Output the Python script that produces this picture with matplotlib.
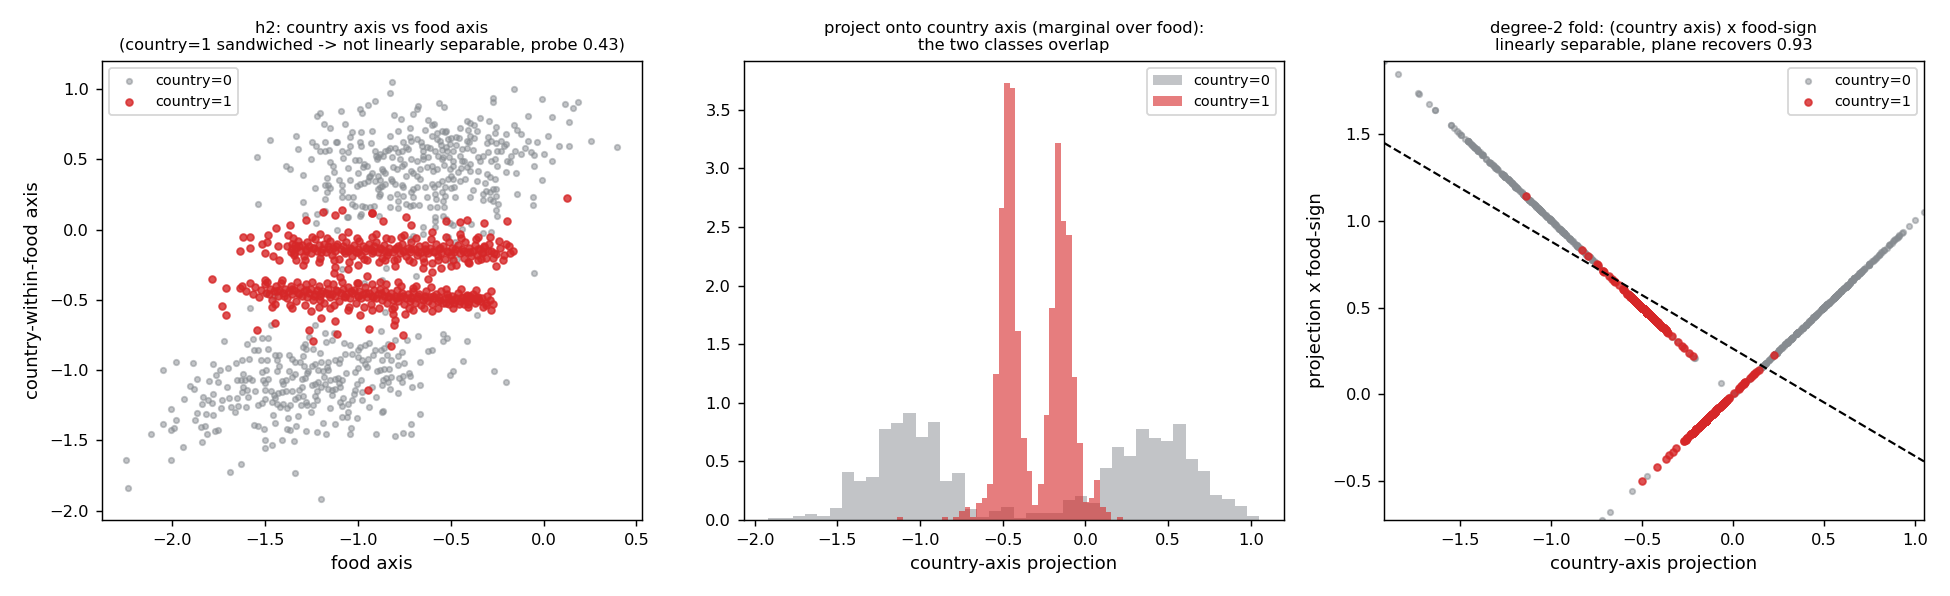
import numpy as np
import matplotlib
matplotlib.use("Agg")
import matplotlib.pyplot as plt

# ---------------- data (columns: food axis, country-axis projection) ----------------
# country=0, food-sign +1
gray_upper = np.array([
    (-0.907,0.916),(-0.943,0.888),(-0.987,0.857),(-0.978,0.833),(-1.091,0.845),(-1.203,0.829),(-1.217,0.805),
    (-1.179,0.750),(-1.147,0.722),(-1.065,0.750),(-1.032,0.691),(-0.982,0.696),(-1.332,0.668),(-1.471,0.637),
    (-1.244,0.625),(-1.176,0.625),(-1.118,0.620),(-1.109,0.620),(-1.039,0.656),(-0.987,0.625),(-0.928,0.618),
    (-1.226,0.597),(-1.319,0.573),(-1.203,0.561),(-1.176,0.561),(-1.154,0.566),(-1.086,0.556),(-1.041,0.597),
    (-0.984,0.597),(-0.907,0.561),(-0.880,0.537),(-0.862,0.526),(-0.889,0.518),(-1.539,0.516),(-1.251,0.502),
    (-1.079,0.509),(-1.014,0.495),(-0.991,0.497),(-0.966,0.466),(-0.970,0.447),(-1.131,0.455),(-1.050,0.438),
    (-1.385,0.455),(-1.364,0.431),(-0.871,0.431),(-0.925,0.400),(-0.934,0.383),(-1.292,0.388),(-1.167,0.367),
    (-1.176,0.320),(-1.158,0.317),(-1.149,0.296),(-1.165,0.270),(-1.127,0.407),(-1.039,0.353),(-1.086,0.317),
    (-1.229,0.296),(-1.005,0.312),(-0.987,0.324),(-0.964,0.329),(-0.943,0.348),(-0.939,0.376),(-0.880,0.353),
    (-0.867,0.312),(-0.889,0.289),(-1.086,0.277),(-1.086,0.230),(-1.050,0.230),(-1.023,0.230),(-1.014,0.170),
    (-1.032,0.182),(-1.176,0.218),(-0.883,0.241),(-1.534,0.182),(-1.292,0.194),(-1.176,0.135),(-0.978,0.170),
    (-0.961,0.159),(-0.934,0.163),(-0.910,0.166),(-1.283,0.107),(-1.220,0.111),(-1.059,0.088),(-1.050,0.088),
    (-0.984,0.111),(-0.987,0.099),(-0.883,0.099),(-1.224,0.045),(-1.113,-0.002),
    (-0.814,1.051),(-0.824,0.971),(-0.158,1.001),(-0.007,0.930),(-0.269,0.935),(-0.269,0.911),(-0.561,0.902),
    (-0.536,0.874),(-0.674,0.881),(-0.679,0.857),(-0.701,0.822),(-0.803,0.817),(-0.765,0.786),(0.116,0.893),
    (0.159,0.864),(0.186,0.907),(0.138,0.765),(0.045,0.803),(-0.082,0.810),(-0.160,0.746),(-0.140,0.710),
    (-0.256,0.732),(-0.260,0.684),(-0.292,0.769),(-0.342,0.793),(-0.414,0.774),(-0.396,0.755),(-0.375,0.746),
    (-0.357,0.703),(-0.405,0.708),(-0.602,0.746),(-0.589,0.751),(-0.638,0.708),(-0.545,0.698),(-0.522,0.703),
    (-0.530,0.691),(-0.575,0.684),(-0.781,0.698),(-0.826,0.668),(-0.719,0.661),(-0.683,0.644),(-0.710,0.632),
    (-0.602,0.668),(-0.575,0.644),(-0.557,0.632),(-0.513,0.644),(-0.495,0.651),(-0.471,0.661),(-0.453,0.651),
    (-0.754,0.620),(-0.737,0.585),(-0.728,0.573),(-0.781,0.549),(-0.763,0.561),(-0.826,0.580),(-0.853,0.561),
    (-0.835,0.566),(-0.898,0.502),(-0.656,0.597),(-0.629,0.585),(-0.611,0.580),(-0.647,0.561),(-0.584,0.556),
    (-0.548,0.566),(-0.522,0.585),(-0.486,0.556),(-0.504,0.608),(-0.468,0.604),(-0.441,0.573),(-0.414,0.580),
    (-0.378,0.566),(-0.414,0.632),(-0.396,0.668),(-0.375,0.651),(-0.306,0.613),(-0.280,0.627),(-0.256,0.613),
    (-0.226,0.632),(-0.211,0.597),(-0.203,0.608),(-0.249,0.561),(-0.231,0.556),(-0.177,0.526),(-0.151,0.556),
    (-0.122,0.537),(-0.086,0.632),(-0.034,0.620),(-0.066,0.549),(-0.050,0.530),(0.004,0.537),(0.043,0.490),
    (0.022,0.668),(0.082,0.594),(0.138,0.594),(0.256,0.630),(0.396,0.587),(-0.008,0.355),(-0.056,0.234),
    (-0.056,0.178),(-0.142,0.253),(-0.351,0.514),(-0.342,0.490),(-0.324,0.526),(-0.285,0.490),(-0.263,0.502),
    (-0.199,0.490),(-0.203,0.407),(-0.396,0.466),(-0.414,0.447),(-0.446,0.438),(-0.428,0.490),(-0.486,0.490),
    (-0.507,0.518),(-0.539,0.514),(-0.566,0.526),(-0.548,0.499),(-0.620,0.514),(-0.647,0.502),(-0.683,0.490),
    (-0.710,0.502),(-0.772,0.502),(-0.817,0.514),(-0.808,0.443),(-0.790,0.431),(-0.763,0.455),
    (-0.862,0.419),(-0.889,0.384),(-0.907,0.348),(-0.880,0.301),(-0.853,0.324),(-0.817,0.348),(-0.799,0.324),
    (-0.763,0.320),(-0.754,0.301),(-0.701,0.289),(-0.665,0.360),(-0.683,0.384),(-0.737,0.384),(-0.710,0.419),
    (-0.665,0.431),(-0.629,0.443),(-0.593,0.419),(-0.572,0.431),(-0.536,0.462),(-0.504,0.431),(-0.486,0.455),
    (-0.459,0.407),(-0.450,0.348),(-0.486,0.360),(-0.513,0.360),(-0.548,0.348),(-0.566,0.324),(-0.602,0.324),
    (-0.638,0.305),(-0.588,0.301),(-0.530,0.301),(-0.495,0.296),(-0.441,0.485),(-0.396,0.419),(-0.360,0.348),
    (-0.306,0.395),(-0.289,0.372),(-0.262,0.360),(-0.253,0.289),(-0.271,0.289),(-0.289,0.265),(-0.253,0.241),
    (-0.244,0.182),(-0.315,0.329),(-0.312,0.272),(-0.324,0.253),(-0.826,0.234),(-0.790,0.253),(-0.754,0.241),
    (-0.710,0.265),(-0.701,0.230),(-0.629,0.230),(-0.584,0.253),(-0.548,0.265),(-0.530,0.241),(-0.539,0.206),
    (-0.536,0.163),(-0.575,0.159),(-0.611,0.159),(-0.668,0.178),(-0.701,0.178),(-0.719,0.166),(-0.737,0.182),
    (-0.781,0.154),(-0.826,0.159),(-0.477,0.230),(-0.396,0.230),(-0.324,0.211),(-0.289,0.218),(-0.271,0.201),
    (-0.256,0.140),(-0.249,0.099),(-0.285,-0.019),(-0.324,-0.026),(-0.392,0.040),(-0.441,0.005),(-0.486,0.036),
    (-0.504,0.045),(-0.522,0.076),(-0.539,0.099),(-0.584,0.092),(-0.584,0.059),(-0.584,0.017),(-0.647,0.021),
    (-0.647,-0.031),(-0.701,-0.043),(-0.513,-0.054),(-0.477,-0.090),
    (-0.876,-0.722),(-1.229,-0.677),(-1.579,-0.556),(-1.450,-0.470),
    (-0.95,0.45),(-0.90,0.52),(-0.85,0.40),(-0.80,0.58),(-0.75,0.47),(-0.70,0.40),(-0.65,0.52),(-0.60,0.45),
    (-0.55,0.60),(-0.50,0.38),(-0.45,0.52),(-0.40,0.62),(-0.35,0.42),(-0.30,0.55),(-0.25,0.45),(-0.20,0.68),
    (-0.15,0.40),(-0.10,0.58),(-1.00,0.40),(-1.05,0.55),(-1.10,0.35),(-0.88,0.25),(-0.78,0.20),(-0.68,0.30),
    (-0.58,0.22),(-0.48,0.30),(-0.38,0.28),(-0.72,0.72),(-0.62,0.78),(-0.45,0.72),(-0.30,0.66),(-0.18,0.48),
    (-0.12,0.68),(-0.05,0.45),(-0.92,0.70),(-1.15,0.48),(-0.82,0.36),(-0.52,0.56),(-0.42,0.36),(-0.66,0.62),
])

# country=0, food-sign -1
gray_lower = np.array([
    (-0.720,-0.065),(-1.201,-0.208),(-1.086,-0.279),(-0.964,-0.381),(-0.052,-0.308),(-0.871,-0.357),
    (-0.687,-0.333),(-0.848,-0.270),(-0.504,-0.234),(-0.464,-0.211),(-1.493,-0.452),(-0.853,-0.585),
    (-0.357,-0.606),
    (-1.466,-0.677),(-1.717,-0.791),(-1.593,-0.817),(-1.561,-0.777),(-1.516,-0.772),(-1.480,-0.772),
    (-1.556,-0.855),(-1.538,-0.855),(-1.582,-0.919),(-1.520,-0.931),(-1.486,-0.931),(-1.444,-0.895),
    (-1.421,-0.895),(-1.367,-0.895),(-1.435,-0.931),(-1.292,-0.902),(-1.355,-0.919),(-1.337,-0.942),
    (-1.176,-0.736),(-1.125,-0.736),(-1.170,-0.800),(-1.136,-0.788),(-1.283,-0.812),(-1.292,-0.836),
    (-1.238,-0.848),(-1.072,-0.805),(-1.041,-0.824),(-1.032,-0.883),(-0.987,-0.836),(-0.961,-0.824),
    (-0.939,-0.807),(-2.048,-0.997),(-1.975,-0.945),(-1.884,-0.950),(-1.776,-0.959),(-1.695,-0.985),
    (-1.654,-0.950),(-1.862,-1.061),(-1.903,-1.110),(-1.880,-1.132),(-1.934,-1.203),(-2.002,-1.274),
    (-1.975,-1.357),(-2.045,-1.381),(-1.986,-1.409),(-2.004,-1.423),(-2.109,-1.456),(-1.937,-1.549),
    (-2.244,-1.636),(-2.002,-1.636),(-2.233,-1.842),(-1.686,-1.728),(-1.627,-1.671),(-1.337,-1.733),
    (-1.195,-1.918),(-1.835,-1.515),(-1.808,-1.458),(-1.842,-1.404),(-1.821,-1.399),(-1.767,-1.432),
    (-1.753,-1.428),(-1.875,-1.357),(-1.866,-1.305),(-1.815,-1.314),(-1.776,-1.321),(-1.785,-1.233),
    (-1.776,-1.172),(-1.830,-1.191),(-1.835,-1.238),(-1.803,-1.214),(-1.731,-1.214),(-1.735,-1.267),
    (-1.763,-1.032),(-1.749,-1.087),(-1.690,-1.196),(-1.681,-1.262),(-1.642,-1.257),(-1.659,-1.297),
    (-1.624,-1.155),(-1.615,-1.120),(-1.647,-1.072),(-1.629,-1.068),(-1.606,-1.068),(-1.582,-1.054),
    (-1.570,-1.068),(-1.615,-1.025),(-1.597,-1.144),(-1.588,-1.191),(-1.538,-1.250),(-1.516,-1.233),
    (-1.498,-1.203),(-1.498,-1.144),(-1.556,-1.392),(-1.538,-1.399),(-1.502,-1.416),(-1.498,-1.494),
    (-1.498,-1.551),(-1.459,-1.534),(-1.453,-1.321),(-1.444,-1.376),(-1.409,-1.494),(-1.382,-1.416),
    (-1.373,-1.338),(-1.364,-1.423),(-1.341,-1.503),(-1.278,-1.435),(-1.220,-1.439),(-1.185,-1.376),
    (-1.170,-1.458),(-1.513,-1.013),(-1.495,-1.001),(-1.507,-1.072),(-1.480,-1.061),(-1.432,-1.006),
    (-1.405,-1.077),(-1.385,-1.068),(-1.367,-1.008),(-1.337,-1.030),(-1.301,-1.061),(-1.283,-1.054),
    (-1.265,-1.006),(-1.466,-1.148),(-1.444,-1.196),(-1.430,-1.162),(-1.409,-1.155),(-1.387,-1.148),
    (-1.355,-1.148),(-1.315,-1.139),(-1.292,-1.186),(-1.280,-1.226),(-1.305,-1.250),(-1.462,-1.226),
    (-1.435,-1.238),(-1.418,-1.262),(-1.400,-1.238),(-1.364,-1.250),(-1.337,-1.203),(-1.319,-1.191),
    (-1.271,-1.250),(-1.238,-1.250),(-1.229,-1.186),(-1.220,-1.214),(-1.247,-1.108),(-1.229,-1.096),
    (-1.211,-1.084),(-1.194,-1.120),(-1.176,-1.096),(-1.158,-1.132),(-1.140,-1.144),(-1.122,-1.132),
    (-1.095,-1.120),(-1.086,-1.072),(-1.149,-1.068),(-1.122,-1.061),(-1.104,-1.054),(-1.158,-1.001),
    (-1.082,-1.257),(-1.095,-1.226),(-1.077,-1.196),(-1.050,-1.238),(-1.032,-1.214),(-1.014,-1.139),
    (-1.005,-1.101),(-0.978,-1.155),(-0.978,-1.214),(-1.014,-1.013),(-1.000,-0.983),(-0.961,-0.954),
    (-0.978,-0.930),(-0.943,-0.919),(-0.916,-0.895),(-0.907,-0.859),(-0.875,-0.855),(-0.867,-0.930),
    (-0.880,-1.001),(-0.898,-1.008),(-0.862,-1.072),(-0.867,-1.108),(-0.871,-1.297),(-0.901,-1.451),
    (-1.005,-1.338),(-1.056,-1.333),(-1.086,-1.333),(-1.038,-1.409),(-1.041,-1.456),(-1.260,-0.765),
    (-1.229,-0.954),(-1.194,-0.942),(-1.158,-0.942),(-1.122,-0.931),(-1.095,-0.919),(-1.068,-0.883),
    (-0.996,-0.907),(-1.310,-0.942),(-1.287,-0.973),(-1.247,-0.973),(-1.211,-1.001),(-1.185,-1.006),
    (-1.167,-0.978),
    (-0.733,-0.788),(-0.674,-0.760),(-0.539,-0.741),(-0.518,-0.772),(-0.539,-0.795),(-0.410,-0.795),
    (-0.799,-0.788),(-0.835,-0.812),(-0.858,-0.840),(-0.760,-0.871),(-0.620,-0.866),(-0.599,-0.859),
    (-0.840,-0.895),(-0.781,-0.902),(-0.749,-0.949),(-0.781,-0.961),(-0.665,-0.945),(-0.432,-0.937),
    (-0.504,-1.032),(-0.486,-1.008),(-0.265,-1.008),(-0.203,-1.087),(-0.830,-0.990),(-0.848,-1.054),
    (-0.821,-1.049),(-0.835,-1.084),(-0.826,-1.136),(-0.776,-1.054),(-0.763,-1.084),(-0.758,-1.044),
    (-0.724,-1.022),(-0.719,-1.044),(-0.706,-1.117),(-0.665,-1.108),(-0.862,-1.293),(-0.665,-1.309),
    (-0.713,-1.380),(-0.711,-1.458),(-0.755,-1.444),(-0.797,-1.470),
    (-1.40,-1.10),(-1.35,-1.05),(-1.30,-1.12),(-1.27,-1.02),(-1.22,-1.15),(-1.18,-1.05),(-1.14,-1.18),
    (-1.10,-1.09),(-1.06,-1.02),(-1.02,-1.17),(-0.98,-1.07),(-0.95,-0.98),(-0.92,-1.12),(-1.45,-1.18),
    (-1.50,-1.09),(-1.55,-1.15),(-1.60,-1.26),(-1.65,-1.20),(-1.70,-1.12),(-1.25,-1.30),(-1.15,-1.27),
    (-1.32,-1.33),(-1.38,-1.27),(-1.20,-0.88),(-1.10,-0.95),(-1.00,-0.86),(-0.94,-1.26),(-1.05,-1.30),
    (-1.28,-0.85),(-1.42,-0.97),(-1.48,-0.85),(-1.62,-0.93),(-1.74,-1.00),(-1.80,-1.08),(-1.12,-1.38),
    (-1.33,-1.40),(-0.90,-1.19),(-0.86,-0.99),(-0.82,-0.93),(-0.78,-1.16),
])

# country=1, food-sign +1
red_upper = np.array([
    (-1.185,0.128),(-1.082,0.142),(-1.122,0.104),(-1.278,0.069),(-0.921,0.118),(-0.862,0.064),(-1.364,0.033),
    (-1.439,0.009),(-0.742,0.092),(-0.713,0.036),(-0.525,0.064),(-0.450,0.052),(-0.414,0.069),(-0.319,0.047),
    (-0.195,0.062),(-0.925,0.116),(0.127,0.225),
    (-1.373,-0.038),(-1.480,-0.038),(-1.615,-0.050),(-1.579,-0.050),(-1.516,-0.102),(-1.489,-0.085),
    (-1.633,-0.156),(-1.453,-0.185),(-1.426,-0.114),(-1.337,-0.107),(-1.341,-0.168),(-1.332,-0.215),
    (-0.319,-0.125),(-0.280,-0.149),(-0.253,-0.173),(-0.256,-0.256),(-0.180,-0.166),(-0.200,-0.100),
    (-0.240,-0.080),(-0.270,-0.200),(-0.290,-0.050),(-0.220,-0.220),
    (-1.292,-0.251),(-1.122,-0.267),(-1.127,-0.310),(-0.950,-0.330),(-0.620,-0.350),(-0.780,-0.370),
    (-1.200,-0.498),(-0.700,-0.417),
    (-1.38,-0.12),(-1.36,-0.16),(-1.35,-0.10),(-1.34,-0.18),(-1.33,-0.13),(-1.32,-0.08),(-1.31,-0.15),
    (-1.30,-0.11),(-1.29,-0.19),(-1.28,-0.14),(-1.27,-0.09),(-1.26,-0.12),(-1.25,-0.17),(-1.24,-0.13),
    (-1.23,-0.07),(-1.22,-0.15),(-1.21,-0.11),(-1.20,-0.20),(-1.19,-0.14),(-1.18,-0.10),(-1.17,-0.16),
    (-1.16,-0.12),(-1.15,-0.08),(-1.14,-0.18),(-1.13,-0.13),(-1.12,-0.15),(-1.11,-0.10),(-1.10,-0.21),
    (-1.09,-0.14),(-1.08,-0.12),(-1.07,-0.17),(-1.06,-0.09),(-1.05,-0.15),(-1.04,-0.13),(-1.03,-0.19),
    (-1.02,-0.11),(-1.01,-0.16),(-1.00,-0.14),(-0.99,-0.08),(-0.98,-0.18),(-0.97,-0.12),(-0.96,-0.15),
    (-0.95,-0.22),(-0.94,-0.10),(-0.93,-0.14),(-0.92,-0.17),(-0.91,-0.12),(-0.90,-0.09),(-0.89,-0.16),
    (-0.88,-0.13),(-0.87,-0.20),(-0.86,-0.11),(-0.85,-0.15),(-0.84,-0.18),(-0.83,-0.13),(-0.82,-0.07),
    (-0.81,-0.16),(-0.80,-0.14),(-0.79,-0.21),(-0.78,-0.12),(-0.77,-0.17),(-0.76,-0.10),(-0.75,-0.15),
    (-0.74,-0.19),(-0.73,-0.13),(-0.72,-0.16),(-0.71,-0.09),(-0.70,-0.23),(-0.69,-0.14),(-0.68,-0.18),
    (-0.67,-0.12),(-0.66,-0.16),(-0.65,-0.20),(-0.64,-0.11),(-0.63,-0.15),(-0.62,-0.17),(-0.61,-0.13),
    (-0.60,-0.24),(-0.59,-0.16),(-0.58,-0.10),(-0.57,-0.19),(-0.56,-0.14),(-0.55,-0.17),(-0.54,-0.12),
    (-0.53,-0.21),(-0.52,-0.15),(-0.51,-0.09),(-0.50,-0.18),(-0.49,-0.13),(-0.48,-0.16),(-0.47,-0.25),
    (-0.46,-0.11),(-0.45,-0.17),(-0.44,-0.14),(-0.43,-0.20),(-0.42,-0.09),(-0.41,-0.16),(-0.40,-0.13),
    (-0.39,-0.19),(-0.38,-0.15),(-0.37,-0.11),(-0.36,-0.18),(-0.35,-0.22),(-0.34,-0.14),(-0.33,-0.17),
    (-0.32,-0.12),(-0.31,-0.20),(-0.30,-0.15),
    (-1.355,-0.14),(-1.315,-0.12),(-1.275,-0.15),(-1.235,-0.13),(-1.195,-0.16),(-1.155,-0.14),(-1.115,-0.12),
    (-1.075,-0.15),(-1.035,-0.14),(-0.995,-0.16),(-0.955,-0.13),(-0.915,-0.15),(-0.875,-0.14),(-0.835,-0.16),
    (-0.795,-0.13),(-0.755,-0.15),(-0.715,-0.14),(-0.675,-0.16),(-0.635,-0.14),(-0.595,-0.15),(-0.555,-0.13),
    (-0.515,-0.16),(-0.475,-0.14),(-0.435,-0.15),(-0.395,-0.16),(-0.355,-0.14),(-0.325,-0.16),
    (-1.58,-0.13),(-1.50,-0.17),(-1.42,-0.22),(-1.20,-0.03),(-1.05,-0.02),(-0.90,-0.03),(-0.75,-0.04),
    (-0.60,-0.02),(-0.45,-0.03),(-0.35,-0.05),(-1.00,-0.25),(-0.80,-0.26),(-0.65,-0.27),(-0.50,-0.26),
    (-1.345,-0.06),(-1.285,-0.22),(-1.245,-0.05),(-1.205,-0.23),(-1.165,-0.06),(-1.125,-0.22),(-1.085,-0.05),
    (-1.045,-0.23),(-1.005,-0.06),(-0.965,-0.21),(-0.925,-0.05),(-0.885,-0.23),(-0.845,-0.06),(-0.805,-0.22),
    (-0.765,-0.05),(-0.725,-0.22),(-0.685,-0.06),(-0.645,-0.23),(-0.605,-0.07),(-0.565,-0.22),(-0.525,-0.05),
    (-0.485,-0.22),(-0.445,-0.06),(-0.405,-0.23),(-0.365,-0.07),(-0.335,-0.21),(-0.295,-0.10),(-0.265,-0.17),
    (-0.235,-0.13),(-0.215,-0.18),(-0.185,-0.12),(-0.165,-0.15),
])

# country=1, food-sign -1
red_lower = np.array([
    (-0.946,-1.139),(-0.821,-0.831),(-1.240,-0.796),(-0.754,-0.748),(-1.113,-0.742),(-1.539,-0.713),
    (-1.260,-0.713),(-0.939,-0.706),(-0.805,-0.682),(-1.443,-0.663),(-1.120,-0.653),(-0.799,-0.646),
    (-1.194,-0.627),(-1.710,-0.606),(-0.987,-0.606),(-0.808,-0.599),(-0.746,-0.599),(-0.280,-0.575),
    (-0.817,-0.563),(-1.728,-0.542),(-0.310,-0.540),(-0.351,-0.504),(-0.367,-0.485),(-0.414,-0.462),
    (-0.405,-0.528),(-0.453,-0.528),(-0.522,-0.523),(-1.785,-0.355),(-1.710,-0.414),(-1.633,-0.417),
    (-1.095,-0.334),(-0.600,-0.300),(-1.050,-0.280),(-0.550,-0.270),(-0.400,-0.240),(-0.850,-0.220),
    (-1.62,-0.40),(-1.60,-0.44),(-1.58,-0.38),(-1.56,-0.46),(-1.55,-0.41),(-1.53,-0.48),(-1.52,-0.43),
    (-1.50,-0.39),(-1.49,-0.45),(-1.47,-0.42),(-1.46,-0.50),(-1.45,-0.44),(-1.44,-0.40),(-1.43,-0.47),
    (-1.42,-0.43),(-1.41,-0.38),(-1.40,-0.45),(-1.39,-0.42),(-1.38,-0.49),(-1.37,-0.44),(-1.36,-0.40),
    (-1.35,-0.46),(-1.34,-0.43),(-1.33,-0.51),(-1.32,-0.45),(-1.31,-0.41),(-1.30,-0.47),(-1.29,-0.44),
    (-1.28,-0.39),(-1.27,-0.48),(-1.26,-0.45),(-1.25,-0.42),(-1.24,-0.50),(-1.23,-0.46),(-1.22,-0.43),
    (-1.21,-0.40),(-1.20,-0.47),(-1.19,-0.44),(-1.18,-0.52),(-1.17,-0.45),(-1.16,-0.42),(-1.15,-0.48),
    (-1.14,-0.46),(-1.13,-0.39),(-1.12,-0.47),(-1.11,-0.44),(-1.10,-0.51),(-1.09,-0.45),(-1.08,-0.42),
    (-1.07,-0.48),(-1.06,-0.46),(-1.05,-0.41),(-1.04,-0.49),(-1.03,-0.45),(-1.02,-0.43),(-1.01,-0.52),
    (-1.00,-0.47),(-0.99,-0.44),(-0.98,-0.49),(-0.97,-0.46),(-0.96,-0.41),(-0.95,-0.48),(-0.94,-0.45),
    (-0.93,-0.53),(-0.92,-0.47),(-0.91,-0.43),(-0.90,-0.49),(-0.89,-0.46),(-0.88,-0.42),(-0.87,-0.50),
    (-0.86,-0.47),(-0.85,-0.44),(-0.84,-0.52),(-0.83,-0.48),(-0.82,-0.45),(-0.81,-0.50),(-0.80,-0.47),
    (-0.79,-0.43),(-0.78,-0.51),(-0.77,-0.48),(-0.76,-0.45),(-0.75,-0.53),(-0.74,-0.49),(-0.73,-0.46),
    (-0.72,-0.51),(-0.71,-0.48),(-0.70,-0.44),(-0.69,-0.52),(-0.68,-0.49),(-0.67,-0.46),(-0.66,-0.54),
    (-0.65,-0.50),(-0.64,-0.47),(-0.63,-0.44),(-0.62,-0.51),(-0.61,-0.48),(-0.60,-0.53),(-0.59,-0.49),
    (-0.58,-0.46),(-0.57,-0.51),(-0.56,-0.48),(-0.55,-0.44),(-0.54,-0.52),(-0.53,-0.49),(-0.52,-0.46),
    (-0.51,-0.53),(-0.50,-0.50),(-0.49,-0.47),(-0.48,-0.52),(-0.47,-0.49),(-0.46,-0.45),(-0.45,-0.51),
    (-0.44,-0.48),(-0.43,-0.53),(-0.42,-0.50),(-0.41,-0.47),(-0.40,-0.51),(-0.39,-0.49),(-0.38,-0.46),
    (-0.37,-0.52),(-0.36,-0.50),(-0.35,-0.48),(-0.34,-0.51),(-0.33,-0.49),(-0.31,-0.52),(-0.29,-0.50),
    (-0.27,-0.53),
    (-1.475,-0.46),(-1.435,-0.44),(-1.395,-0.47),(-1.355,-0.42),(-1.315,-0.46),(-1.275,-0.43),(-1.235,-0.47),
    (-1.195,-0.45),(-1.155,-0.46),(-1.115,-0.43),(-1.075,-0.47),(-1.035,-0.44),(-0.995,-0.47),(-0.955,-0.45),
    (-0.915,-0.48),(-0.875,-0.45),(-0.835,-0.47),(-0.795,-0.49),(-0.755,-0.47),(-0.715,-0.49),(-0.675,-0.47),
    (-0.635,-0.49),(-0.595,-0.47),(-0.555,-0.50),(-0.515,-0.48),(-0.475,-0.50),(-0.435,-0.49),(-0.395,-0.47),
    (-0.355,-0.49),
    (-1.50,-0.36),(-1.46,-0.55),(-1.35,-0.56),(-1.25,-0.58),(-1.15,-0.56),(-1.05,-0.57),(-0.92,-0.57),
    (-0.70,-0.57),(-0.60,-0.58),(-0.88,-0.37),(-1.00,-0.38),
    (-1.485,-0.37),(-1.445,-0.53),(-1.405,-0.36),(-1.365,-0.54),(-1.325,-0.37),(-1.285,-0.54),(-1.245,-0.37),
    (-1.205,-0.55),(-1.165,-0.38),(-1.125,-0.54),(-1.085,-0.37),(-1.045,-0.55),(-1.005,-0.38),(-0.965,-0.55),
    (-0.925,-0.39),(-0.885,-0.56),(-0.845,-0.39),(-0.805,-0.55),(-0.765,-0.40),(-0.725,-0.56),(-0.685,-0.40),
    (-0.645,-0.56),(-0.605,-0.41),(-0.565,-0.56),(-0.525,-0.42),(-0.485,-0.56),(-0.445,-0.42),(-0.405,-0.55),
    (-0.365,-0.43),(-0.325,-0.55),(-0.305,-0.47),(-0.285,-0.44),
])

# histogram densities (40 equal bins over each class's range)
gray_hist_density = [0.016, 0.016, 0.03, 0.05, 0.03, 0.10, 0.41, 0.33, 0.37, 0.78,
                     0.83, 0.91, 0.71, 0.84, 0.336, 0.405, 0.097, 0.028, 0.08, 0.114,
                     0.016, 0.063, 0.063, 0.063, 0.174, 0.208, 0.148, 0.44, 0.62, 0.55,
                     0.78, 0.70, 0.67, 0.82, 0.52, 0.42, 0.21, 0.18, 0.12, 0.03]
red_hist_density = [0.026, 0, 0, 0, 0, 0, 0, 0, 0.026, 0,
                    0.026, 0.074, 0.114, 0.028, 0.148, 0.19, 0.31, 1.25, 2.66, 3.73,
                    3.69, 1.61, 0.70, 0.42, 0.13, 0.31, 0.90, 1.81, 3.22, 2.55,
                    2.43, 1.22, 0.66, 0.15, 0.19, 0.345, 0.114, 0.071, 0, 0.026]

# separating plane in the folded space
boundary_x = [-1.918, 1.051]
boundary_y = [1.447, -0.385]

GRAY = "#868b90"
RED = "#d62728"
S_GRAY = 9
S_RED = 14

# ---------------- figure ----------------
fig = plt.figure(figsize=(15, 596 / 130), dpi=130)
W = 540 / 1950
B = 76 / 596
H = 459 / 596
ax1 = fig.add_axes([101.7 / 1950, B, W, H])
ax2 = fig.add_axes([743.7 / 1950, B, W, H])
ax3 = fig.add_axes([1384 / 1950, B, W, H])

gray = np.vstack([gray_upper, gray_lower])
red = np.vstack([red_upper, red_lower])

# panel 1
ax1.scatter(gray[:, 0], gray[:, 1], s=S_GRAY, color=GRAY, alpha=0.5, label="country=0")
ax1.scatter(red[:, 0], red[:, 1], s=S_RED, color=RED, alpha=0.8, label="country=1")
ax1.set_xlabel("food axis", fontsize=10)
ax1.set_ylabel("country-within-food axis", fontsize=10)
ax1.set_title("h2: country axis vs food axis\n(country=1 sandwiched -> not linearly separable, probe 0.43)",
              fontsize=9)
ax1.legend(loc="upper left", fontsize=8)

# panel 2
g_edges = np.linspace(gray[:, 1].min(), gray[:, 1].max(), len(gray_hist_density) + 1)
r_edges = np.linspace(red[:, 1].min(), red[:, 1].max(), len(red_hist_density) + 1)
ax2.bar(g_edges[:-1], gray_hist_density, width=np.diff(g_edges), align="edge",
        color=GRAY, alpha=0.5, linewidth=0, label="country=0")
ax2.bar(r_edges[:-1], red_hist_density, width=np.diff(r_edges), align="edge",
        color=RED, alpha=0.6, linewidth=0, label="country=1")
ax2.set_xlabel("country-axis projection", fontsize=10)
ax2.set_title("project onto country axis (marginal over food):\nthe two classes overlap", fontsize=9)
ax2.legend(loc="upper right", fontsize=8)

# panel 3
gx = np.concatenate([gray_upper[:, 1], gray_lower[:, 1]])
gy = np.concatenate([gray_upper[:, 1], -gray_lower[:, 1]])
rx = np.concatenate([red_upper[:, 1], red_lower[:, 1]])
ry = np.concatenate([red_upper[:, 1], -red_lower[:, 1]])
ax3.scatter(gx, gy, s=S_GRAY, color=GRAY, alpha=0.5, label="country=0")
ax3.scatter(rx, ry, s=S_RED, color=RED, alpha=0.8, label="country=1")
ax3.plot(boundary_x, boundary_y, "k--", lw=1.2)
allx = np.concatenate([gx, rx])
ally = np.concatenate([gy, ry])
ax3.set_xlim(allx.min(), allx.max())
ax3.set_ylim(ally.min(), ally.max())
ax3.set_xlabel("country-axis projection", fontsize=10)
ax3.set_ylabel("projection x food-sign", fontsize=10)
ax3.set_title("degree-2 fold: (country axis) x food-sign\nlinearly separable, plane recovers 0.93", fontsize=9)
ax3.legend(loc="upper right", fontsize=8)

for ax in (ax1, ax2, ax3):
    ax.tick_params(labelsize=9)

fig.savefig("out.png", dpi=130)
